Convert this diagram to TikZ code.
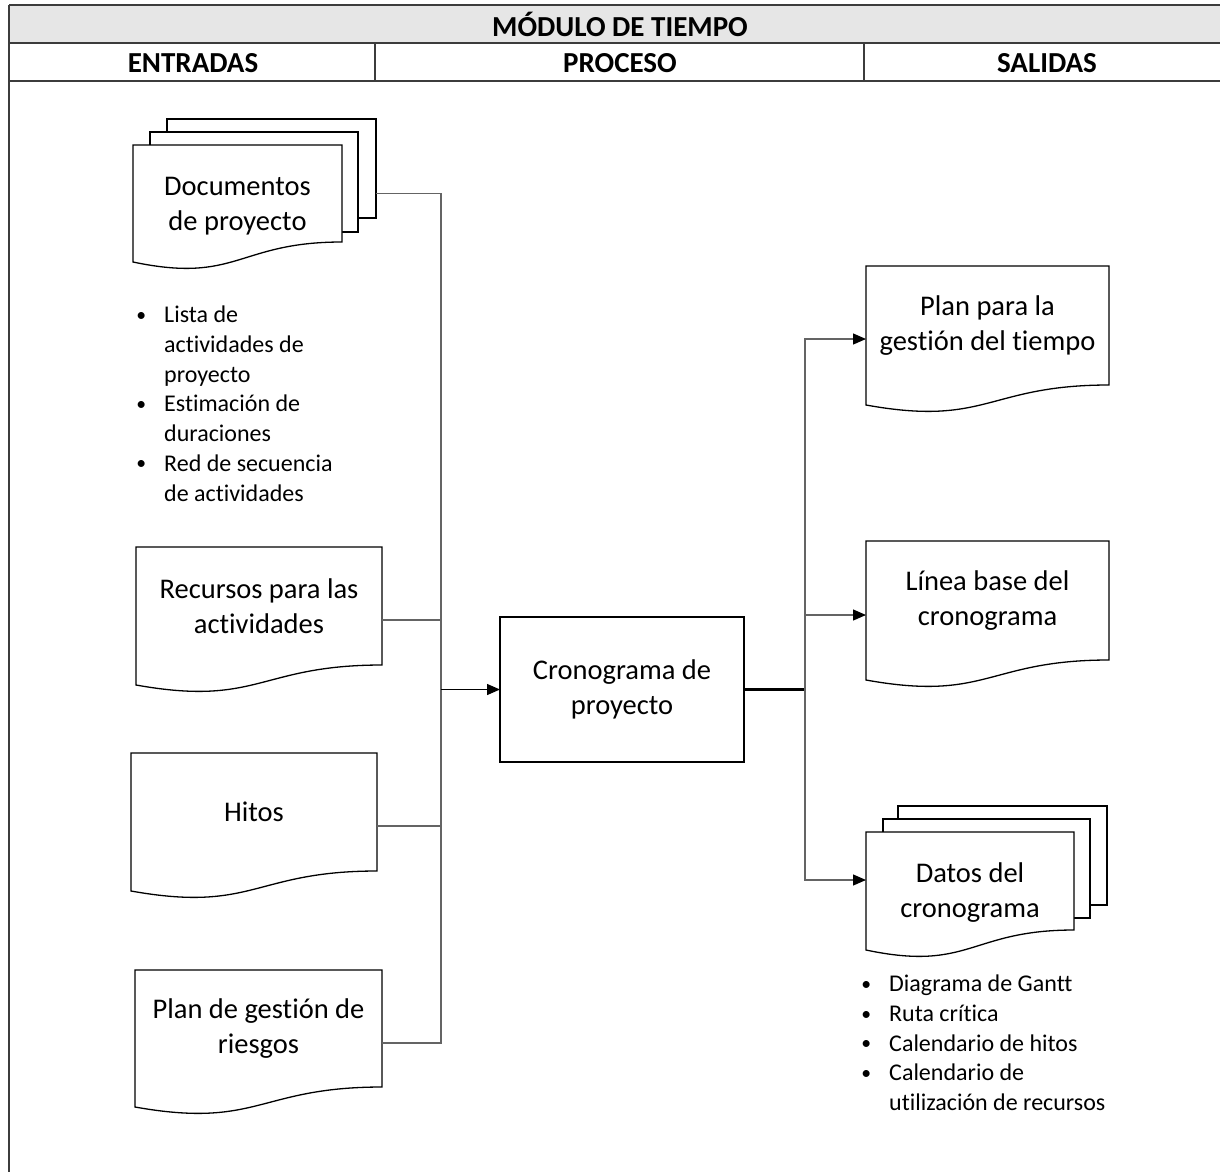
\documentclass[tikz,border=0pt]{standalone}
\usepackage{fontspec}
\setmainfont{Carlito}[Ligatures=NoCommon]
\usetikzlibrary{arrows.meta,calc,backgrounds}

\definecolor{headfill}{RGB}{230,230,230}
\definecolor{rulecol}{RGB}{60,60,60}
\definecolor{wirecol}{RGB}{100,100,100}

\newcommand{\bul}{\makebox[0pt][r]{\raisebox{0.06em}{\scalebox{0.82}{•}}\hspace{18pt}}}
% document outline with a wavy lower edge, drawn round a named frame node
\newcommand{\docoutline}[1]{%
  \path[sheet] (#1.north west) -- (#1.north east) -- (#1.south east)
    .. controls (#1.south) and ($(#1.south)+(0,42)$) .. ($(#1.south west)+(0,20)$) -- cycle;}
\newcommand{\sheetrect}[1]{\path[sheet] (#1.north west) rectangle (#1.south east);}

\tikzset{
  boxfont/.style={font=\fontsize{28.5}{35}\selectfont},
  headfont/.style={font=\fontsize{29}{32}\selectfont\bfseries},
  listfont/.style={font=\fontsize{24}{29.7}\selectfont},
  frame/.style 2 args={draw=none, inner sep=2pt, outer sep=0pt, boxfont, align=center,
    minimum width=#1, minimum height=#2},
  sheet/.style={draw=black, line width=1.3pt, fill=white, line join=miter},
  procbox/.style={draw=black, line width=1.3pt},
  wire/.style={draw=wirecol, line width=1.2pt},
  flow/.style={draw=black, line width=1.3pt},
  tip/.style={-{Triangle[length=13pt,width=11pt,color=black]}},
  headrule/.style={draw=rulecol, line width=2pt},
}

\begin{document}
\begin{tikzpicture}[x=1pt,y=-1pt]
\useasboundingbox (0,0) rectangle (1220,1172);

% header table
\draw[headrule] (9,5) -- (1220,5);
\draw[headrule] (9,43) -- (1220,43);
\draw[headrule] (9,81) -- (1220,81);
\draw[draw=rulecol, line width=1.5pt] (9,5) -- (9,1172);
\draw[draw=rulecol, line width=1.5pt] (375,43) -- (375,81);
\draw[draw=rulecol, line width=1.5pt] (864,43) -- (864,81);
\node[headfont] (title) at (620,24) {MÓDULO DE TIEMPO};
\node[headfont] (hin) at (193,63) {ENTRADAS};
\node[headfont] (hproc) at (620,63) {PROCESO};
\node[headfont] (hout) at (1047,63) {SALIDAS};

% inputs
\node[frame={209pt}{99pt}] (docs3) at (271.5,168.5) {};
\node[frame={208pt}{100pt}] (docs2) at (254,182) {};
\node[frame={209pt}{97pt}, label={[boxfont, align=center, yshift=-12.5pt]center:Documentos\\de proyecto}] (docs) at (237.5,193.5) {};

\node[listfont, anchor=north west, align=left, inner sep=0pt] (inlist) at (164,306)
  {\bul Lista de\\actividades de\\proyecto\\\bul Estimación de\\duraciones\\\bul Red de secuencia\\de actividades};

\node[frame={246pt}{118pt}] (rec) at (259,606) {Recursos para las\\actividades};
\node[frame={246pt}{118pt}] (hitos) at (254,812) {Hitos};
\node[frame={247pt}{117pt}] (risk) at (258.5,1028.5) {Plan de gestión de\\riesgos};

% process
\node[procbox, boxfont, align=center, minimum width=244pt, minimum height=145pt, inner sep=2pt, outer sep=0pt] (proc) at (622,689.5) {Cronograma de\\proyecto};

% outputs
\node[frame={243pt}{119pt}] (plan) at (987.5,325.5) {Plan para la\\gestión del tiempo};
\node[frame={243pt}{119pt}] (linea) at (987.5,600.5) {Línea base del\\cronograma};
\node[frame={209pt}{99pt}] (datos3) at (1002.5,855.5) {};
\node[frame={207pt}{99pt}] (datos2) at (986.5,868.5) {};
\node[frame={208pt}{98pt}, label={[boxfont, align=center, yshift=-11.5pt]center:Datos del\\cronograma}] (datos) at (970,881) {};

\node[listfont, anchor=north west, align=left, inner sep=0pt] (outlist) at (889,975)
  {\bul Diagrama de Gantt\\\bul Ruta crítica\\\bul Calendario de hitos\\\bul Calendario de\\utilización de recursos};

% shape outlines and header shading, behind the texts
\begin{scope}[on background layer]
  \fill[headfill] (9,5) rectangle (1220,43);
  \sheetrect{docs3}
  \sheetrect{docs2}
  \docoutline{docs}
  \docoutline{rec}
  \docoutline{hitos}
  \docoutline{risk}
  \docoutline{plan}
  \docoutline{linea}
  \sheetrect{datos3}
  \sheetrect{datos2}
  \docoutline{datos}
\end{scope}

% connectors
\path (proc.west) ++(-59,0) coordinate (busL);
\path (proc.east) ++(61,0) coordinate (busR);

\draw[wire] (docs3.east |- docs.center) -| (busL);
\draw[wire] ($(rec.east)+(0,14)$) -| (busL);
\draw[wire] ($(hitos.east)+(0,14)$) -| (busL);
\draw[wire] ($(risk.east)+(0,14.5)$) -| (busL);
\draw[flow, tip] (busL) -- (proc.west);

\draw[flow, line width=2.4pt] (proc.east) -- (busR);
\draw[wire, tip] (busR) |- ($(plan.west)+(0,13.5)$);
\draw[wire, tip] (busR) |- ($(linea.west)+(0,14.5)$);
\draw[wire, tip] (busR) |- ($(datos.west)+(0,-1)$);
\end{tikzpicture}
\end{document}
